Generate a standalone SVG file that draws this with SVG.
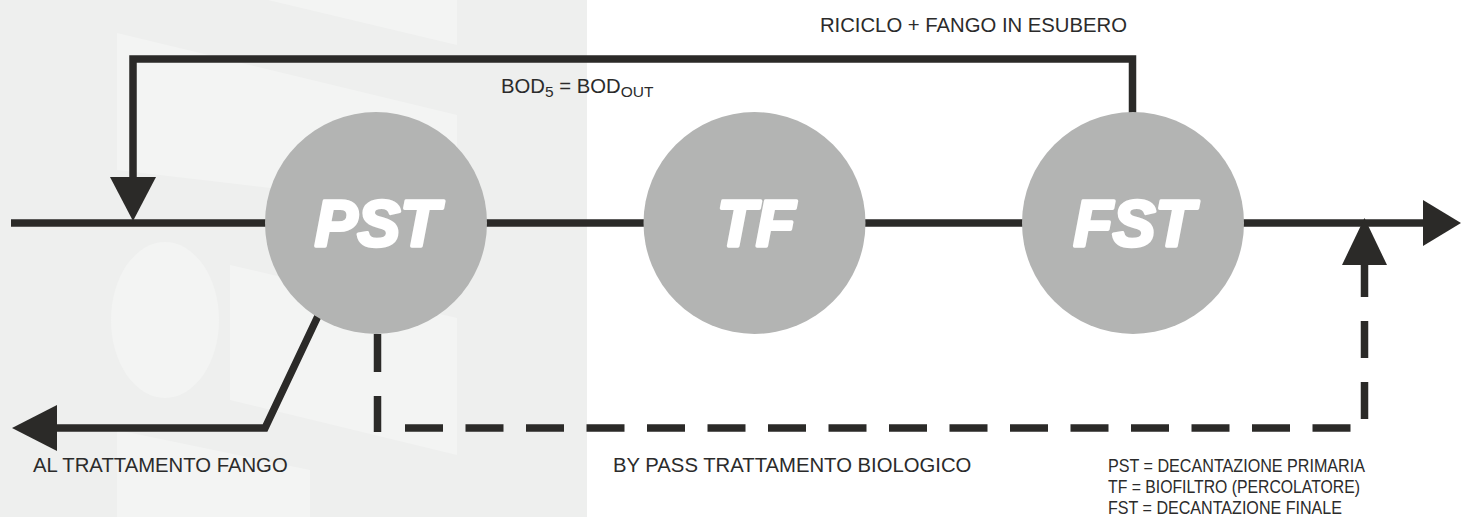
<svg xmlns="http://www.w3.org/2000/svg" width="1461" height="517" viewBox="0 0 1461 517">
<defs>
<style>
.ln{fill:none;stroke:#2b2a28;stroke-width:7.5;stroke-linejoin:miter;stroke-linecap:butt}
.dash{fill:none;stroke:#2b2a28;stroke-width:7.5;stroke-linecap:butt}
.ah{fill:#2b2a28}
.node{fill:#b3b4b3}
.nl{font-family:"Liberation Sans",Arial,sans-serif;font-weight:bold;font-style:italic;font-size:64px;fill:#ffffff;stroke:#ffffff;stroke-width:3.5;stroke-linejoin:round;text-anchor:middle}
.lbl{font-family:"Liberation Sans",Arial,sans-serif;font-size:20.3px;fill:#2b2b2b}
.leg{font-family:"Liberation Sans",Arial,sans-serif;font-size:17.5px;fill:#2b2b2b}
.wm{fill:#f3f4f3}
</style>
</defs>
<rect x="0" y="0" width="1461" height="517" fill="#ffffff"/>
<g id="background">
<rect x="0" y="0" width="587" height="517" fill="#eeefee"/>
<polygon class="wm" points="268,0 457,0 457,45"/>
<polygon class="wm" points="117,33 457,115 457,210 117,170"/>
<ellipse class="wm" cx="165" cy="320" rx="54" ry="78"/>
<polygon class="wm" points="230,265 457,318 457,455 230,400"/>
<polygon class="wm" points="117,430 310,470 310,517 117,517"/>
</g>
<g id="connectors">
<path class="ln" d="M11,223 H1425"/>
<polygon class="ah" points="1423,200 1461,223 1423,246"/>
<path class="ln" d="M1132.5,114 V59 H133 V179"/>
<polygon class="ah" points="110,177 156,177 133,221"/>
<path class="ln" d="M318,316 L265,428 H55"/>
<polygon class="ah" points="57,405 12,428 57,451"/>
<path class="dash" d="M377.5,334 V432" stroke-dasharray="38 24"/>
<path class="dash" d="M405,428 H1351" stroke-dasharray="38 22.5"/>
<path class="dash" d="M1364.5,419 V263" stroke-dasharray="37 24"/>
<polygon class="ah" points="1342,265 1387,265 1364.5,218"/>
</g>
<g id="node-pst">
<circle class="node" cx="376" cy="223" r="111"/>
<text class="nl" x="377" y="246">PST</text>
</g>
<g id="node-tf">
<circle class="node" cx="754.5" cy="223" r="111"/>
<text class="nl" x="756" y="246">TF</text>
</g>
<g id="node-fst">
<circle class="node" cx="1133" cy="223" r="111"/>
<text class="nl" x="1134" y="246">FST</text>
</g>
<g id="labels">
<text class="lbl" x="1127" y="32" text-anchor="end">RICICLO + FANGO IN ESUBERO</text>
<text class="lbl" x="501" y="93">BOD<tspan font-size="15.5" dy="4">5</tspan><tspan dy="-4"> = BOD</tspan><tspan font-size="15.5" dy="4">OUT</tspan></text>
<text class="lbl" x="33" y="472">AL TRATTAMENTO FANGO</text>
<text class="lbl" x="613" y="472">BY PASS TRATTAMENTO BIOLOGICO</text>
</g>
<g id="legend">
<text class="leg" x="1108" y="472" textLength="257" lengthAdjust="spacingAndGlyphs">PST = DECANTAZIONE PRIMARIA</text>
<text class="leg" x="1108" y="493" textLength="252" lengthAdjust="spacingAndGlyphs">TF = BIOFILTRO (PERCOLATORE)</text>
<text class="leg" x="1108" y="514" textLength="234" lengthAdjust="spacingAndGlyphs">FST = DECANTAZIONE FINALE</text>
</g>
</svg>
